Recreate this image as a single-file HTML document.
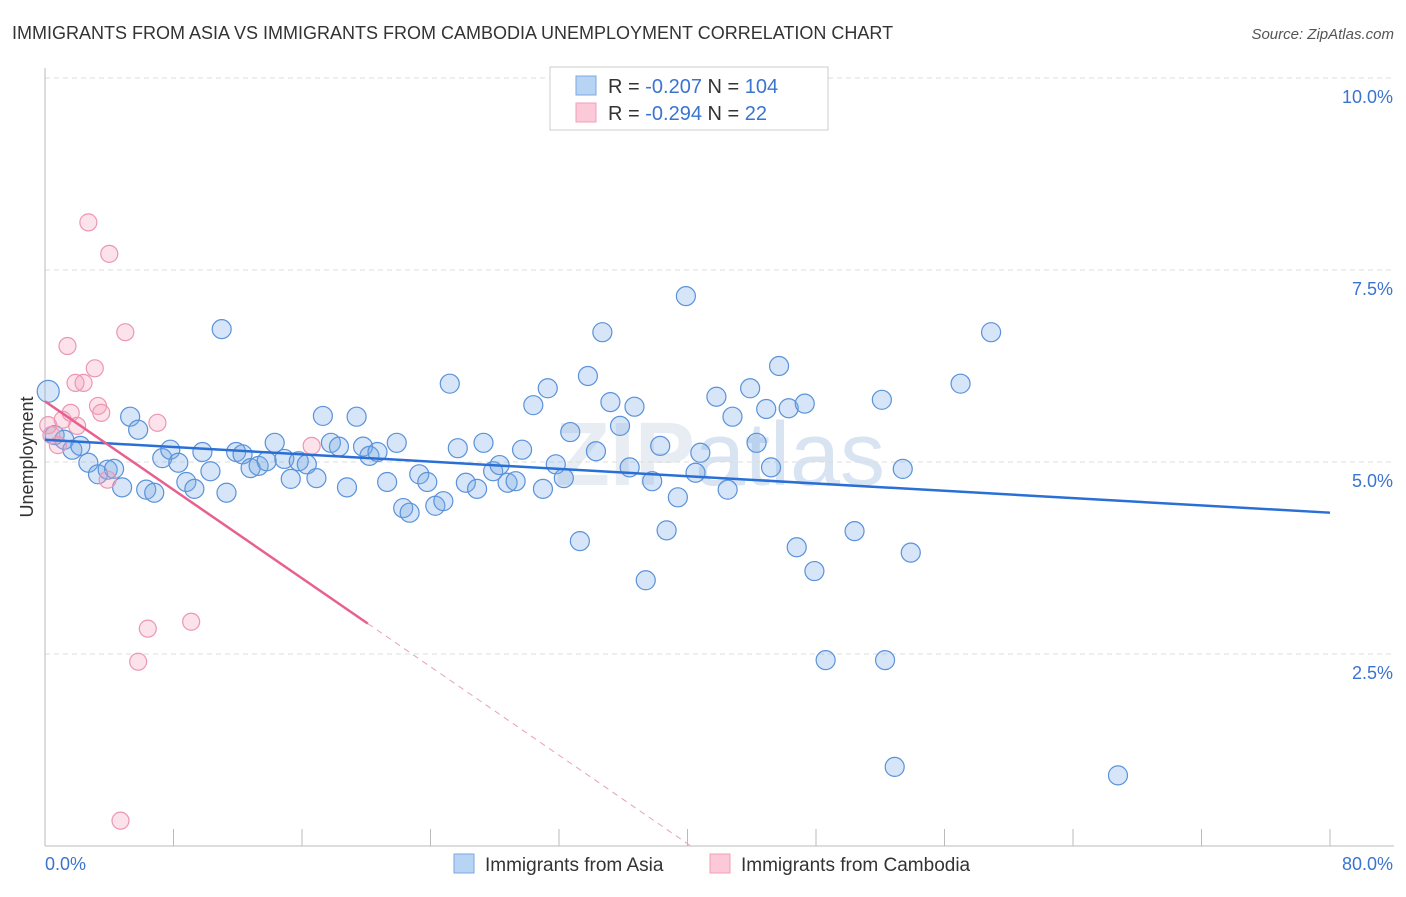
<!DOCTYPE html>
<html><head><meta charset="utf-8"><style>
body{margin:0;background:#fff;font-family:"Liberation Sans",sans-serif}
svg text{font-family:"Liberation Sans",sans-serif}
</style></head><body>
<svg width="1406" height="892">
<text x="12" y="39" font-size="18" fill="#333">IMMIGRANTS FROM ASIA VS IMMIGRANTS FROM CAMBODIA UNEMPLOYMENT CORRELATION CHART</text>
<text x="1394" y="39" font-size="15" fill="#555" text-anchor="end" font-style="italic">Source: ZipAtlas.com</text>
<text x="720" y="485" font-size="90" fill="#e8edf3" text-anchor="middle" font-family="Liberation Serif" font-weight="bold">ZIP<tspan font-family="Liberation Sans" font-weight="normal" fill="#d8e4f2">atlas</tspan></text>
<g id="grid"></g>
<g id="axes"></g>
<g id="marks"></g>
<text transform="translate(33,457) rotate(-90)" font-size="18" fill="#333" text-anchor="middle">Unemployment</text>
<g>
<rect x="550" y="67" width="278" height="63" fill="#fff" stroke="#ccc"/>
<rect x="576" y="76" width="20" height="19" fill="#b8d4f5" stroke="#7aa8e0"/>
<rect x="576" y="103" width="20" height="19" fill="#fbc9d8" stroke="#f0a0b8"/>
<text x="608" y="93" font-size="20" fill="#333">R = <tspan fill="#3a74d0">-0.207</tspan>   N = <tspan fill="#3a74d0">104</tspan></text>
<text x="608" y="120" font-size="20" fill="#333">R = <tspan fill="#3a74d0">-0.294</tspan>   N = <tspan fill="#3a74d0">  22</tspan></text>
</g>
<g>
<rect x="454" y="854" width="20" height="19" fill="#b8d4f5" stroke="#7aa8e0"/>
<text x="485" y="871" font-size="19" fill="#333">Immigrants from Asia</text>
<rect x="710" y="854" width="20" height="19" fill="#fbc9d8" stroke="#f0a0b8"/>
<text x="741" y="871" font-size="19" fill="#333">Immigrants from Cambodia</text>
</g>
</svg>
<script>
const yTicks=[2.5,5.0,7.5,10.0];
const yTickLabels=["2.5%","5.0%","7.5%","10.0%"];
const xTicks=[0,8,16,24,32,40,48,56,64,72,80];
const asiaX=[0.2,0.6,1.2,1.7,2.2,2.7,3.3,3.9,4.3,4.8,5.3,5.8,6.3,6.8,7.3,7.8,8.3,8.8,9.3,9.8,10.3,11.0,11.3,11.9,12.3,12.8,13.3,13.8,14.3,14.9,15.3,15.8,16.3,16.9,17.3,17.8,18.3,18.8,19.4,19.8,20.2,20.7,21.3,21.9,22.3,22.7,23.3,23.8,24.3,24.8,25.2,25.7,26.2,26.9,27.3,27.9,28.3,28.8,29.3,29.7,30.4,31.0,31.3,31.8,32.3,32.7,33.3,33.8,34.3,34.7,35.2,35.8,36.4,36.7,37.4,37.8,38.3,38.7,39.4,39.9,40.5,40.8,41.8,42.5,42.8,43.9,44.3,44.9,45.2,45.7,46.3,46.8,47.3,47.9,48.6,50.4,52.1,52.3,52.9,53.4,53.9,57.0,58.9,66.8];
const asiaY=[5.92,5.35,5.29,5.16,5.21,4.99,4.84,4.90,4.91,4.67,5.59,5.42,4.64,4.60,5.05,5.16,4.99,4.74,4.65,5.13,4.88,6.73,4.60,5.13,5.10,4.92,4.95,5.01,5.25,5.04,4.78,5.01,4.97,4.79,5.60,5.25,5.20,4.67,5.59,5.20,5.08,5.13,4.74,5.25,4.40,4.34,4.84,4.74,4.43,4.49,6.02,5.18,4.73,4.65,5.25,4.88,4.96,4.73,4.75,5.16,5.74,4.65,5.96,4.97,4.79,5.39,3.97,6.12,5.14,6.69,5.78,5.47,4.93,5.72,3.46,4.75,5.21,4.11,4.54,7.16,4.86,5.12,5.85,4.64,5.59,5.96,5.25,5.69,4.93,6.25,5.70,3.89,5.76,3.58,2.42,4.10,5.81,2.42,1.03,4.91,3.82,6.02,6.69,0.92];
const cambX=[0.2,0.4,0.8,1.1,1.6,2.0,1.4,1.9,2.4,3.1,3.3,3.5,3.9,2.7,4.0,5.0,7.0,6.4,5.8,9.1,4.7,16.6];
const cambY=[5.48,5.35,5.22,5.55,5.64,5.47,6.51,6.03,6.03,6.22,5.73,5.64,4.77,8.12,7.71,6.69,5.51,2.83,2.40,2.92,0.33,5.21];
const asiaTrend=[5.29,4.34];
const cambTrend=[5.79,-0.144];
const cambSolidEnd=20.1;

const NS="http://www.w3.org/2000/svg";
const X=v=>45+v*(1285/80);
const Y=v=>846-v*76.8;
function mk(tag,attrs,parent){const e=document.createElementNS(NS,tag);for(const k in attrs)e.setAttribute(k,attrs[k]);document.getElementById(parent).appendChild(e);return e;}
yTicks.forEach((t,i)=>{
 const l=mk('line',{x1:45,x2:1394,y1:Y(t),y2:Y(t),stroke:'#ddd','stroke-dasharray':'5,4'},'grid');
 
 
 const tx=mk('text',{x:1393,y:Y(t)+25,'font-size':18,fill:'#3a74d0','text-anchor':'end'},'axes');
 tx.textContent=yTickLabels[i];
 
 
});
const ax=mk('line',{x1:45,x2:45,y1:68,y2:846,stroke:'#bbb'},'axes');


const bx=mk('line',{x1:45,x2:1394,y1:846,y2:846,stroke:'#bbb'},'axes');


xTicks.forEach(t=>{
 const l=mk('line',{x1:X(t),x2:X(t),y1:829,y2:846,stroke:'#bbb'},'axes');
 
 
});
[[0,'0.0%','start',45],[80,'80.0%','end',1393]].forEach(a=>{
 const t=mk('text',{x:a[3],y:870,'font-size':18,fill:'#3a74d0','text-anchor':a[2]},'axes');
 t.textContent=a[1];
 
 
});
asiaX.forEach((x,i)=>{
 const c=mk('circle',{cx:X(x),cy:Y(asiaY[i]),r:i===0?11:9.5,fill:'rgba(120,170,230,0.3)',stroke:'#5a92db','stroke-width':1.2},'marks');
 
 
});
cambX.forEach((x,i)=>{
 const c=mk('circle',{cx:X(x),cy:Y(cambY[i]),r:8.5,fill:'rgba(245,160,185,0.3)',stroke:'#ec97b2','stroke-width':1.2},'marks');
 
 
});
const bl=mk('line',{x1:X(0),y1:Y(asiaTrend[0]),x2:X(80),y2:Y(asiaTrend[1]),stroke:'#2a6fd6','stroke-width':2.5},'marks');


const zeroX=-cambTrend[0]/cambTrend[1];
const pl=mk('line',{x1:X(0),y1:Y(cambTrend[0]),x2:X(cambSolidEnd),y2:Y(cambTrend[0]+cambTrend[1]*cambSolidEnd),stroke:'#e8608e','stroke-width':2.5},'marks');


const pd=mk('line',{x1:X(cambSolidEnd),y1:Y(cambTrend[0]+cambTrend[1]*cambSolidEnd),x2:X(zeroX),y2:Y(0),stroke:'#e8a0b8','stroke-width':1,'stroke-dasharray':'6,5'},'marks');


</script>
</body></html>
